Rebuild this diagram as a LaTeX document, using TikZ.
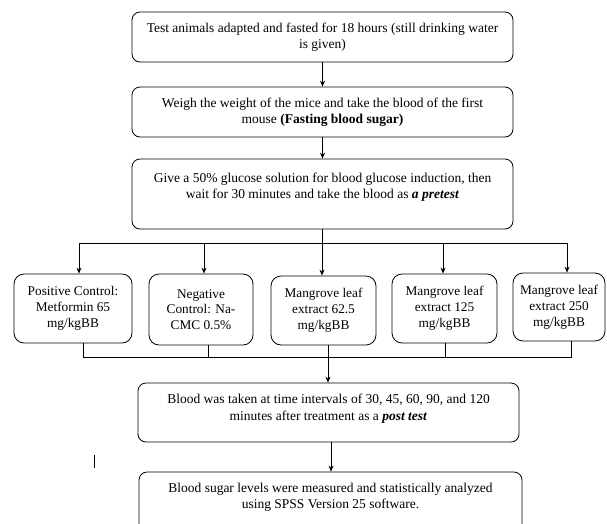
\documentclass[tikz,border=0pt]{standalone}
\usepackage{fontspec}
\setmainfont{Liberation Serif}
\usetikzlibrary{arrows.meta}
\tikzset{
  box/.style={draw, rounded corners=8pt, line width=0.8pt, align=center, inner sep=0pt,
    font=\fontsize{13.5}{16.5}\selectfont},
  sbox/.style={box, rounded corners=10pt, font=\fontsize{13.3}{15.8}\selectfont},
  arr/.style={-{Stealth[length=6pt,width=5pt]}, line width=0.8pt},
  conn/.style={line width=0.8pt}
}
\begin{document}
\begin{tikzpicture}[x=1pt,y=-1pt]
\useasboundingbox (0,0) rectangle (607,523);
\clip (0,0) rectangle (607,523);
% main boxes
\node[box, minimum width=381pt, minimum height=50pt] (b1) at (322.5,37)
  {Test animals adapted and fasted for 18 hours (still drinking water\\ is given)};
\node[box, minimum width=381pt, minimum height=50pt] (b2) at (322.5,112)
  {Weigh the weight of the mice and take the blood of the first\\ mouse \textbf{(Fasting blood sugar)}};
\node[box, minimum width=381pt, minimum height=70pt] (b3) at (322.5,194)
  {Give a 50\% glucose solution for blood glucose induction, then\\ wait for 30 minutes and take the blood as \textbf{\textit{a pretest}}\\ \mbox{}};
% group boxes
\node[sbox, minimum width=118pt, minimum height=69pt] (pA) at (73,308.5)
  {Positive Control:\\ Metformin 65\\ mg/kgBB};
\node[sbox, minimum width=104pt, minimum height=71pt] (pB) at (201,309.5)
  {Negative\\ Control: Na-\\ CMC 0.5\%};
\node[sbox, minimum width=105pt, minimum height=69pt] (pC) at (323.5,310.5)
  {Mangrove leaf\\ extract 62.5\\ mg/kgBB};
\node[sbox, minimum width=105pt, minimum height=69pt] (pD) at (444.5,308.5)
  {Mangrove leaf\\ extract 125\\ mg/kgBB};
\node[sbox, minimum width=92pt, minimum height=68pt] (pE) at (559,307)
  {Mangrove leaf\\ extract 250\\ mg/kgBB};
% lower boxes
\node[box, minimum width=381pt, minimum height=59pt] (bF) at (328.5,412.5)
  {Blood was taken at time intervals of 30, 45, 60, 90, and 120\\ minutes after treatment as a \textbf{\textit{post test}}\\[-6pt] \mbox{}};
\node[box, minimum width=383pt, minimum height=64pt] (bG) at (330.5,504)
  {Blood sugar levels were measured and statistically analyzed\\ using SPSS Version 25 software.\\ \mbox{}};
% bus coordinates
\coordinate (busT) at (0,243);
\coordinate (busB) at (0,357);
% connectors top
\draw[arr] (b1.south) -- (b2.north);
\draw[arr] (b2.south) -- (b3.north);
\draw[conn] (b3.south) -- (b3.south |- busT);
\draw[conn] ([xshift=6pt]pA.north |- busT) -- ([xshift=8pt]pE.north |- busT);
\draw[arr] ([xshift=6pt]pA.north |- busT) -- ([xshift=6pt]pA.north);
\draw[arr] ([xshift=3pt]pB.north |- busT) -- ([xshift=3pt]pB.north);
\draw[arr] ([xshift=-1.5pt]pC.north |- busT) -- ([xshift=-1.5pt]pC.north);
\draw[arr] ([xshift=-1.5pt]pD.north |- busT) -- ([xshift=-1.5pt]pD.north);
\draw[arr] ([xshift=8pt]pE.north |- busT) -- ([xshift=8pt]pE.north);
% connectors bottom
\draw[conn] ([xshift=10pt]pA.south) -- ([xshift=10pt]pA.south |- busB)
  -- ([xshift=12pt]pE.south |- busB) -- ([xshift=12pt]pE.south);
\draw[conn] ([xshift=7pt]pB.south) -- ([xshift=7pt]pB.south |- busB);
\draw[conn] ([xshift=4.5pt]pC.south) -- ([xshift=4.5pt]pC.south |- busB);
\draw[conn] ([xshift=0.5pt]pD.south) -- ([xshift=0.5pt]pD.south |- busB);
\draw[arr] ([xshift=4.5pt]pC.south |- busB) -- ([xshift=-0.5pt]bF.north);
\draw[arr] ([xshift=2.5pt]bF.south) -- ([xshift=0.5pt]bG.north);
% text cursor mark
\draw[line width=0.7pt] (94,455) -- (94,468);
\end{tikzpicture}
\end{document}
